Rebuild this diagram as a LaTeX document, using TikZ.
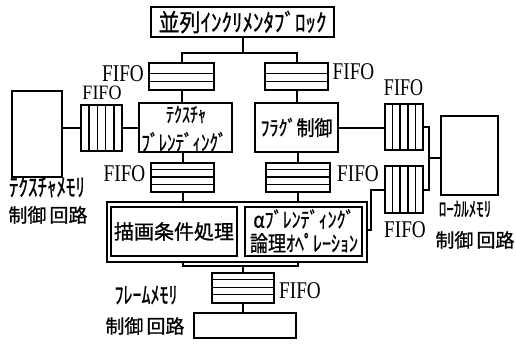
\documentclass[tikz,border=0pt]{standalone}
\usepackage{fontspec}
\newfontfamily\jp[FakeBold=1]{Noto Sans CJK JP}
\newfontfamily\fifofont{Liberation Serif}
\usetikzlibrary{calc}
\newcommand{\jpt}[3][1]{{\jp\fontsize{#2}{#2}\selectfont\scalebox{1}[#1]{#3}}}
\begin{document}
\begin{tikzpicture}[x=1pt,y=-1pt,
  ln/.style={line width=2pt},
  blk/.style={draw,line width=2pt,inner sep=0pt,rectangle,align=center},
  hlines/.style={blk, path picture={\foreach \fr in {#1} \draw[line width=1.5pt] ($(path picture bounding box.north west)!\fr!(path picture bounding box.south west)$) -- ($(path picture bounding box.north east)!\fr!(path picture bounding box.south east)$);}},
  vlines/.style={blk, path picture={\foreach \fr in {#1} \draw[line width=1.5pt] ($(path picture bounding box.north west)!\fr!(path picture bounding box.north east)$) -- ($(path picture bounding box.south west)!\fr!(path picture bounding box.south east)$);}},
  fifolbl/.style={inner sep=0pt, font=\fifofont\fontsize{24}{24}\selectfont},
  jlbl/.style={inner sep=0pt}
]
\useasboundingbox (0,0) rectangle (516,345);

% top block
\node[blk, minimum width=183, minimum height=30] (top) at (242.5,22) {\jpt[1.15]{21}{並列ｲﾝｸﾘﾒﾝﾀﾌﾞﾛｯｸ}};

% top FIFOs
\node[hlines={0.38,0.69}, minimum width=65, minimum height=27] (tfl) at (181.5,76.5) {};
\node[hlines={0.38,0.69}, minimum width=63, minimum height=27] (tfr) at (296.5,76.5) {};
\node[fifolbl] (ltfl) at (123,74) {\scalebox{0.8}[1]{FIFO}};
\node[fifolbl] (ltfr) at (353.5,72) {\scalebox{0.8}[1]{FIFO}};

% middle row
\node[blk, minimum width=50, minimum height=86] (texmem) at (37,134) {};
\node[vlines={0.2,0.4,0.6,0.8}, minimum width=41, minimum height=46] (vfl) at (101.5,128) {};
\node[fifolbl] (lvfl) at (102,93) {\scalebox{0.75}[0.85]{FIFO}};
\node[blk, minimum width=93, minimum height=49] (tb) at (185.5,127.5) {};
\node[jlbl] (tbt1) at (186,114.5) {\jpt[1.3]{16}{ﾃｸｽﾁｬ}};
\node[jlbl] (tbt2) at (184,142) {\jpt[1.3]{17}{ﾌﾞﾚﾝﾃﾞｨﾝｸﾞ}};
\node[blk, minimum width=83, minimum height=49] (flag) at (296.5,127.5) {\jpt[1.15]{18}{ﾌﾗｸﾞ制御}};
\node[vlines={0.2,0.4,0.6,0.8}, minimum width=38, minimum height=46] (vr1) at (404,127) {};
\node[fifolbl] (lvr1) at (403.5,88) {\scalebox{0.75}[1]{FIFO}};
\node[vlines={0.2,0.4,0.6,0.8}, minimum width=38, minimum height=47] (vr2) at (404,189.5) {};
\node[fifolbl] (lvr2) at (405,230) {\scalebox{0.8}[1]{FIFO}};
\node[blk, minimum width=57, minimum height=79] (lm) at (469.5,155.5) {};

\node[jlbl] (ltexmem) at (47,187) {\jpt[1.3]{19}{ﾃｸｽﾁｬﾒﾓﾘ}};
\node[jlbl] (lctl1) at (48,215) {\jpt{19}{制御\kern3pt 回路}};
\node[jlbl] (llm) at (465,209) {\jpt[1.35]{15}{ﾛｰｶﾙﾒﾓﾘ}};
\node[jlbl] (lctl2) at (475,240) {\jpt{19}{制御\kern3pt 回路}};

% lower FIFOs
\node[hlines={0.22,0.48,0.74}, minimum width=63, minimum height=29] (lfl) at (182.5,177.5) {};
\node[hlines={0.22,0.48,0.74}, minimum width=64, minimum height=29] (lfr) at (298,177.5) {};
\node[fifolbl] (llfl) at (124.5,174) {\scalebox{0.8}[1]{FIFO}};
\node[fifolbl] (llfr) at (358,174) {\scalebox{0.8}[1]{FIFO}};

% big box
\node[blk, minimum width=260, minimum height=60] (big) at (237,232) {};
\node[blk, minimum width=126, minimum height=49] (cond) at (174,231.5) {\jpt{20}{描画条件処理}};
\node[blk, minimum width=117, minimum height=49] (alpha) at (303.5,231.5) {};
\node[jlbl] (alt1) at (304,219) {\jpt[1.2]{18}{αﾌﾞﾚﾝﾃﾞｨﾝｸﾞ}};
\node[jlbl] (alt2) at (304,243) {\jpt[1.2]{18}{論理ｵﾍﾟﾚｰｼｮﾝ}};

% frame memory
\node[hlines={0.22,0.48,0.72}, minimum width=62, minimum height=30] (ff) at (243,288) {};
\node[fifolbl] (lff) at (300,291) {\scalebox{0.8}[1]{FIFO}};
\node[blk, minimum width=102, minimum height=25] (fb) at (245,325.5) {};
\node[jlbl] (lfm) at (146,295) {\jpt[1.3]{18}{ﾌﾚｰﾑﾒﾓﾘ}};
\node[jlbl] (lctl3) at (145,326) {\jpt{19}{制御\kern3pt 回路}};

% connectors
\coordinate (busT) at (242.5,53);
\draw[ln] (top.south) -- (busT);
\draw[ln] (tfl.north) |- (busT) -| (tfr.north);
\draw[ln] (tfl.south) -- (tfl.south |- tb.north);
\draw[ln] (tfr.south) -- (tfr.south |- flag.north);
\draw[ln] (vfl.west) -- (vfl.west -| texmem.east);
\draw[ln] (vfl.east) -- (vfl.east -| tb.west);
\draw[ln] (flag.east) -- (flag.east -| vr1.west);
\coordinate (jr) at (429,158);
\draw[ln] (vr1.east) -| (jr);
\draw[ln] (vr2.east) -| (jr);
\draw[ln] (jr) -- (jr -| lm.west);
\coordinate (kk) at (371,230);
\draw[ln] (vr2.west) -| (kk) -- (kk -| big.east);
\draw[ln] (lfl.north |- tb.south) -- (lfl.north);
\draw[ln] (lfr.north |- flag.south) -- (lfr.north);
\draw[ln] (lfl.south) -- (lfl.south |- big.north);
\draw[ln] (lfr.south) -- (lfr.south |- big.north);
\coordinate (bl) at (182.5,265.5);
\coordinate (br) at (298,265.5);
\draw[ln] (bl |- big.south) -- (bl) -- (br) -- (br |- big.south);
\draw[ln] (ff.north) -- (ff.north |- bl);
\draw[ln] (ff.south) -- (ff.south |- fb.north);
\end{tikzpicture}
\end{document}
